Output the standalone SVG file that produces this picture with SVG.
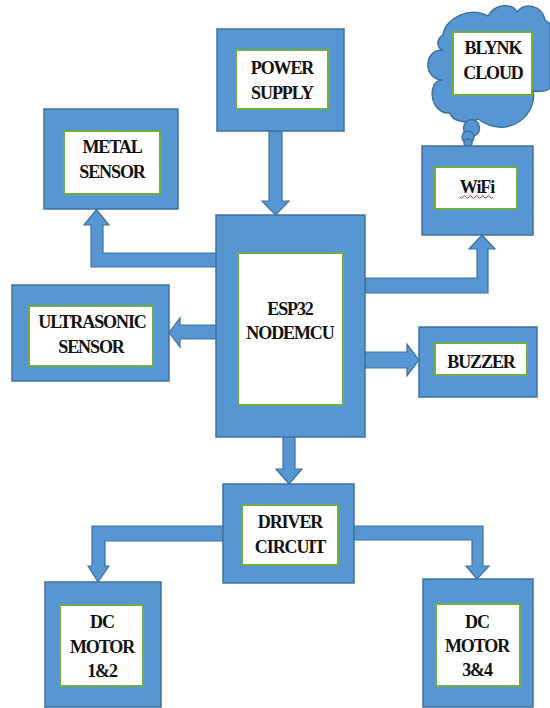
<svg xmlns="http://www.w3.org/2000/svg" width="550" height="708" viewBox="0 0 550 708">
<defs><style>
.o{fill:#5596d3;stroke:#41719c;stroke-width:1.5}
.i{fill:#fff;stroke:#70ad47;stroke-width:2}
.a{fill:#5596d3;stroke:#41719c;stroke-width:1.2}
text{font-family:"Liberation Serif",serif;font-weight:bold;font-size:18px;letter-spacing:-1.100px;fill:#111;text-anchor:middle}
</style></defs>
<rect width="550" height="708" fill="#fff"/>
<g id="connectors">
<path class="a" d="M217 253H103V225H109L96.500 209.500L84 225H91V267H217Z"/>
<path class="a" d="M217 325H180V318L169 332.500L180 347V339H217Z"/>
<path class="a" d="M269 131H282V201H289L275.500 215L262 201H269Z"/>
<path class="a" d="M365 278H477V249H469L482 235L495 249H488V293H365Z"/>
<path class="a" d="M365 352H407V344L419 360L407 376V368H365Z"/>
<path class="a" d="M283 437H295V469H302L289 484L276 469H283Z"/>
<path class="a" d="M224 526H92V566H88L98 582L109 566H105V541H224Z"/>
<path class="a" d="M354 526H483V566H489L477 579L466 566H472V540H354Z"/>
</g>
<g id="cloud"><path class="o" d="M443 35C445 18 470 6 488 16C495 3 512 3 517 12C525 2 542 5 545 20L550 24V88C545 92 540 92 533 91C538 112 510 142 478 119C468 124 452 122 450 113C438 114 428 100 434 85C436 82 440 80 443 80C423 80 423 50 442 50C435 45 438 38 443 35Z"/>
<ellipse class="o" cx="471.500" cy="128" rx="8" ry="8.500"/><circle class="o" cx="468" cy="137" r="6"/><circle class="o" cx="468" cy="143" r="4"/>
<rect class="i" x="453" y="32" width="79" height="63"/>
<text x="493" y="54">BLYNK</text><text x="493" y="79">CLOUD</text></g>
<g id="power"><rect class="o" x="217" y="29" width="127" height="102"/><rect class="i" x="236" y="50" width="92" height="59"/><text x="282" y="74">POWER</text><text x="282" y="99">SUPPLY</text></g>
<g id="metal"><rect class="o" x="44" y="109" width="134" height="100"/><rect class="i" x="64" y="131" width="96" height="63"/><text x="112" y="153">METAL</text><text x="112" y="178">SENSOR</text></g>
<g id="wifi"><rect class="o" x="422" y="146" width="111" height="89"/><rect class="i" x="435" y="167" width="82" height="42"/><text x="477" y="193">WiFi</text><path d="M460 197q1.500 2.500 3 0t3 0t3 0t3 0t3 0t3 0t3 0t3 0t3 0t3 0t3 0" fill="none" stroke="#c0392b" stroke-width="1"/></g>
<g id="ultrasonic"><rect class="o" x="12" y="285" width="157" height="96"/><rect class="i" x="29" y="306" width="124" height="60"/><text x="92" y="328">ULTRASONIC</text><text x="91" y="353">SENSOR</text></g>
<g id="esp32"><rect class="o" x="216" y="215" width="149" height="222"/><rect class="i" x="238" y="253" width="105" height="152"/><text x="290" y="315">ESP32</text><text x="290" y="339">NODEMCU</text></g>
<g id="buzzer"><rect class="o" x="419" y="327" width="118" height="70"/><rect class="i" x="435" y="343" width="92" height="32"/><text x="481" y="368">BUZZER</text></g>
<g id="driver"><rect class="o" x="223" y="484" width="131" height="99"/><rect class="i" x="242" y="505" width="96" height="60"/><text x="290" y="528">DRIVER</text><text x="290" y="553">CIRCUIT</text></g>
<g id="motor12"><rect class="o" x="45" y="582" width="116" height="125"/><rect class="i" x="60" y="605" width="83" height="81"/><text x="102" y="628">DC</text><text x="102" y="653">MOTOR</text><text x="102" y="677">1&amp;2</text></g>
<g id="motor34"><rect class="o" x="423" y="579" width="110" height="128"/><rect class="i" x="436" y="604" width="84" height="82"/><text x="477" y="628">DC</text><text x="477" y="652">MOTOR</text><text x="477" y="676">3&amp;4</text></g>
</svg>
